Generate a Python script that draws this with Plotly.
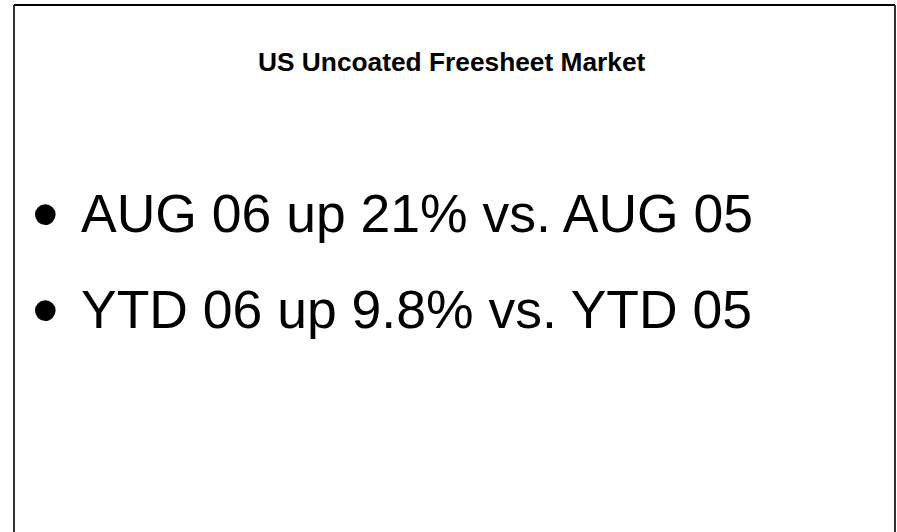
import plotly.graph_objects as go

W, H = 897, 532

title_text = "US Uncoated Freesheet Market"
bullet_lines = ["AUG 06 up 21% vs. AUG 05", "YTD 06 up 9.8% vs. YTD 05"]
bullet_mid_y = [213, 309]   # pixel y of cap-middle for each line

FONT = "Liberation Sans, Arial, sans-serif"

def px(x):
    return x / W

def py(y):
    return 1 - y / H

fig = go.Figure()

annotations = [
    dict(text="<b>" + title_text + "</b>", x=px(451.5), y=py(62), xref="paper", yref="paper",
         xanchor="center", yanchor="middle", showarrow=False,
         font=dict(family=FONT, size=26.3, color="black")),
]
for line, ym in zip(bullet_lines, bullet_mid_y):
    annotations.append(dict(text=line, x=px(79), y=py(ym), xref="paper", yref="paper",
                            xanchor="left", yanchor="middle", showarrow=False,
                            font=dict(family=FONT, size=53.5, color="black")))
    annotations.append(dict(text="•", x=px(45), y=py(ym), xref="paper", yref="paper",
                            xanchor="center", yanchor="middle", showarrow=False,
                            font=dict(family=FONT, size=76, color="black")))

shapes = [
    dict(type="line", xref="paper", yref="paper", x0=px(14), x1=px(14), y0=-0.1, y1=py(5),
         line=dict(color="#333333", width=2)),
    dict(type="line", xref="paper", yref="paper", x0=px(14), x1=px(895), y0=py(5), y1=py(5),
         line=dict(color="black", width=2)),
    dict(type="line", xref="paper", yref="paper", x0=px(895), x1=px(895), y0=-0.1, y1=py(5),
         line=dict(color="#333333", width=2)),
]

fig.update_layout(
    width=W, height=H,
    margin=dict(l=0, r=0, t=0, b=0),
    paper_bgcolor="white", plot_bgcolor="white",
    xaxis=dict(visible=False, range=[0, 1]),
    yaxis=dict(visible=False, range=[0, 1]),
    annotations=annotations,
    shapes=shapes,
    showlegend=False,
)

fig.write_html("out.html", config={"displayModeBar": False},
               post_script="document.body.style.margin='0';document.body.style.overflow='hidden';")
